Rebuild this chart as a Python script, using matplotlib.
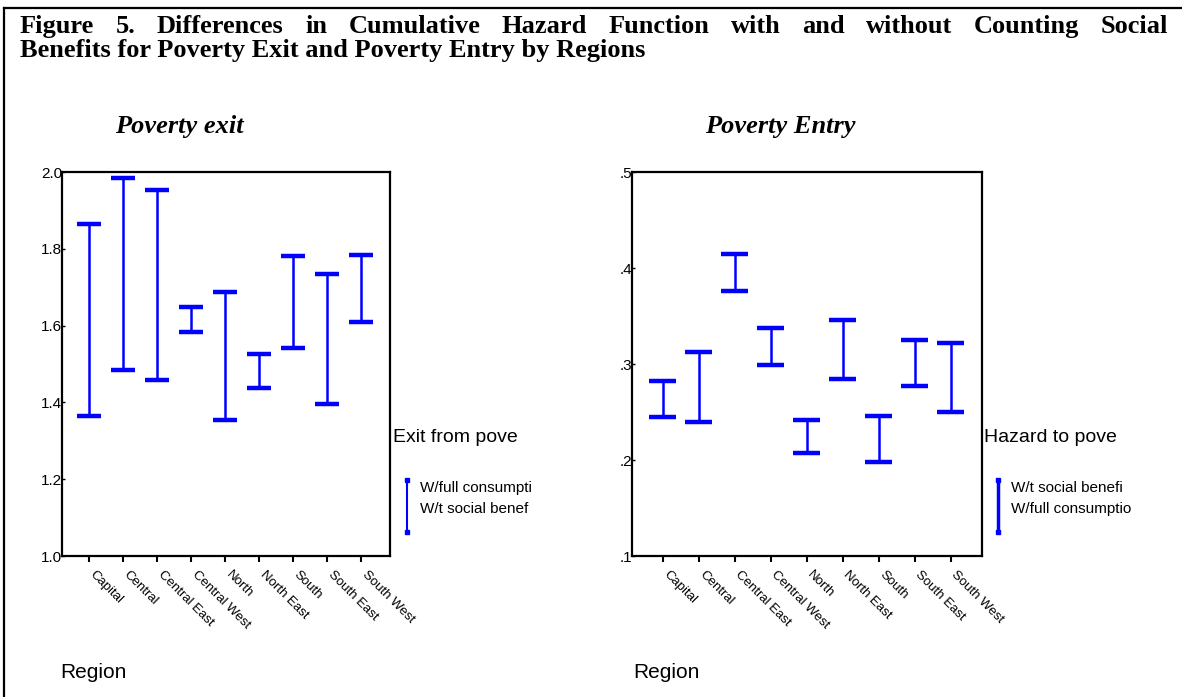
import matplotlib
matplotlib.use('Agg')
import numpy as np
import matplotlib.pyplot as plt
from matplotlib.lines import Line2D

# ---------------- data ----------------
regions = ["Capital", "Central", "Central East", "Central West", "North",
           "North East", "South", "South East", "South West"]

# Poverty exit (left panel)
exit_full_consumption = [1.865, 1.985, 1.954, 1.649, 1.688, 1.527, 1.782, 1.735, 1.785]
exit_without_social = [1.365, 1.484, 1.458, 1.583, 1.355, 1.437, 1.542, 1.397, 1.610]
exit_yticks = [1.0, 1.2, 1.4, 1.6, 1.8, 2.0]
exit_yticklabels = ["1.0", "1.2", "1.4", "1.6", "1.8", "2.0"]

# Poverty entry (right panel)
entry_without_social = [0.282, 0.313, 0.415, 0.338, 0.242, 0.346, 0.2455, 0.325, 0.322]
entry_full_consumption = [0.245, 0.240, 0.376, 0.299, 0.207, 0.284, 0.198, 0.277, 0.250]
entry_yticks = [0.1, 0.2, 0.3, 0.4, 0.5]
entry_yticklabels = [".1", ".2", ".3", ".4", ".5"]

title_line1 = "Figure 5. Differences in Cumulative Hazard Function with and without Counting Social"
title_line2 = "Benefits for Poverty Exit and Poverty Entry by Regions"

# ---------------- figure ----------------
W, H = 1182, 697
fig = plt.figure(figsize=(W / 100, H / 100), dpi=100)
BLUE = "#0000ff"
SANS = "Liberation Sans"
SERIF = "Liberation Serif"
TITLE_FS = 19


def fx(x):
    return x / W


def fy(y):
    return 1 - y / H


# outer frame (top and left edges visible)
fig.add_artist(Line2D([fx(4), fx(W + 5)], [fy(8), fy(8)], color="black", lw=1.6,
                      transform=fig.transFigure))
fig.add_artist(Line2D([fx(4), fx(4)], [fy(8), fy(H + 5)], color="black", lw=1.6,
                      transform=fig.transFigure))

# justified first title line
renderer = fig.canvas.get_renderer()
words = title_line1.split()
tmp = [fig.text(0, 0, w, fontsize=TITLE_FS, fontweight="bold", family=SERIF) for w in words]
widths = [t.get_window_extent(renderer).width for t in tmp]
for t in tmp:
    t.remove()
x_left, x_right = 20, 1168
gap = (x_right - x_left - sum(widths)) / (len(words) - 1)
xpos = x_left
for w, wd in zip(words, widths):
    fig.text(fx(xpos), fy(33), w, fontsize=TITLE_FS, fontweight="bold", family=SERIF,
             va="baseline", ha="left")
    xpos += wd + gap
fig.text(fx(20), fy(57), title_line2, fontsize=TITLE_FS, fontweight="bold", family=SERIF,
         va="baseline", ha="left")

# subtitles
fig.text(fx(115), fy(133), "Poverty exit", fontsize=19, fontweight="bold",
         style="italic", family=SERIF, va="baseline")
fig.text(fx(705), fy(133), "Poverty Entry", fontsize=19, fontweight="bold",
         style="italic", family=SERIF, va="baseline")


def panel(left_px, right_px, high, low, yticks, yticklabels, cap_half, xlim):
    ax = fig.add_axes([fx(left_px), fy(556), fx(right_px - left_px), (556 - 172) / H])
    x = np.arange(len(regions))
    ax.vlines(x, low, high, color=BLUE, lw=1.8)
    ax.hlines(high, x - cap_half, x + cap_half, color=BLUE, lw=3.2)
    ax.hlines(low, x - cap_half, x + cap_half, color=BLUE, lw=3.2)
    ax.set_xlim(*xlim)
    ax.set_ylim(yticks[0], yticks[-1])
    ax.set_yticks(yticks)
    ax.set_yticklabels(yticklabels, fontsize=11, family=SANS)
    ax.set_xticks(x)
    ax.set_xticklabels([])
    for xi, lab in zip(x, regions):
        ax.annotate(lab, xy=(xi, yticks[0]), xycoords="data",
                    xytext=(5, -9), textcoords="offset points",
                    rotation=-45, ha="left", va="top", fontsize=9.5, family=SANS,
                    rotation_mode="anchor", annotation_clip=False)
    ax.tick_params(axis="y", length=2, width=1, pad=0, direction="in")
    ax.tick_params(axis="x", length=4, width=1.5, direction="out")
    for s in ax.spines.values():
        s.set_linewidth(1.6)
    return ax


panel(62, 390, exit_full_consumption, exit_without_social, exit_yticks,
      exit_yticklabels, 0.35, (-0.8, 8.85))
panel(632, 982, entry_without_social, entry_full_consumption, entry_yticks,
      entry_yticklabels, 0.38, (-0.85, 8.87))


def legend(x0, title, entries, lw):
    fig.text(fx(x0), fy(437), title, fontsize=14, family=SANS, va="center")
    fig.add_artist(Line2D([fx(x0 + 14), fx(x0 + 14)], [fy(480), fy(532)], color=BLUE,
                          lw=lw, marker="s", markersize=3, transform=fig.transFigure))
    fig.text(fx(x0 + 27), fy(488), entries[0], fontsize=11, family=SANS, va="center")
    fig.text(fx(x0 + 27), fy(509), entries[1], fontsize=11, family=SANS, va="center")


legend(393, "Exit from pove", ["W/full consumpti", "W/t social benef"], 1.5)
legend(984, "Hazard to pove", ["W/t social benefi", "W/full consumptio"], 2.5)

fig.text(fx(60), fy(673), "Region", fontsize=15, family=SANS, va="center")
fig.text(fx(633), fy(673), "Region", fontsize=15, family=SANS, va="center")

fig.savefig("out.png", dpi=100)
